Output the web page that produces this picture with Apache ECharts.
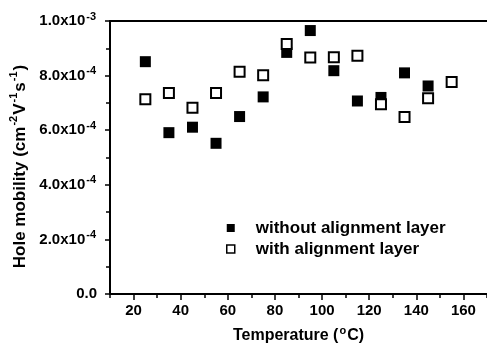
<!DOCTYPE html>
<html>
<head>
<meta charset="utf-8">
<script src="https://cdn.jsdelivr.net/npm/echarts@6/dist/echarts.min.js"></script>
<style>
  html, body { margin: 0; padding: 0; background: #fff; }
  #chart { width: 487px; height: 350px; }
</style>
</head>
<body>
<div id="chart"></div>
<script>
// Annealing temperature (°C)
const temperatures = [25, 35, 45, 55, 65, 75, 85, 95, 105, 115, 125, 135, 145, 155];
// Hole mobility (cm^2 V^-1 s^-1)
const mobilityWithout = [8.51e-4, 5.91e-4, 6.11e-4, 5.52e-4, 6.50e-4, 7.22e-4, 8.85e-4, 9.65e-4, 8.18e-4, 7.07e-4, 7.20e-4, 8.10e-4, 7.62e-4];
const mobilityWith = [7.13e-4, 7.36e-4, 6.82e-4, 7.36e-4, 8.14e-4, 8.01e-4, 9.16e-4, 8.66e-4, 8.67e-4, 8.73e-4, 6.95e-4, 6.48e-4, 7.17e-4, 7.77e-4];
const seriesNames = ['without alignment layer', 'with alignment layer'];
// labelled temperature ticks
const xTickValues = [20, 40, 60, 80, 100, 120, 140, 160];
// y tick labels: mantissa and exponent
const yTickLabels = {
  0: ['0.0', ''],
  2e-4: ['2.0x10', '-4'],
  4e-4: ['4.0x10', '-4'],
  6e-4: ['6.0x10', '-4'],
  8e-4: ['8.0x10', '-4'],
  1e-3: ['1.0x10', '-3']
};

const FONT = '"Liberation Sans", Arial, sans-serif';

function pairs(values) {
  return values.map((v, i) => [temperatures[i], v]);
}

function richText(size, supSize) {
  return {
    m: { fontFamily: FONT, fontWeight: 'bold', fontSize: size, lineHeight: size + 5, color: '#000' },
    s: { fontFamily: FONT, fontWeight: 'bold', fontSize: supSize, lineHeight: supSize + 1, color: '#000', verticalAlign: 'top', padding: [0, 1, 0, 1] }
  };
}

const chart = echarts.init(document.getElementById('chart'), null, { renderer: 'canvas' });

const axisLine = { show: true, lineStyle: { color: '#000', width: 2 } };
const tickLine = { color: '#000', width: 1.5 };

chart.setOption({
  animation: false,
  backgroundColor: '#fff',
  grid: { left: 110, right: -6, top: 21, bottom: 56, show: false },
  legend: {
    orient: 'vertical',
    left: 221,
    top: 214,
    itemWidth: 8,
    itemHeight: 8,
    itemGap: 3,
    data: [
      { name: seriesNames[0], itemStyle: { color: '#000', borderWidth: 0 } },
      { name: seriesNames[1], itemStyle: { color: '#fff', borderColor: '#000', borderWidth: 1.5 } }
    ],
    textStyle: {
      fontFamily: FONT, fontWeight: 'bold', fontSize: 17, color: '#000',
      padding: [0, 0, 0, 16], lineHeight: 18
    }
  },
  xAxis: [{
    // bottom axis: short ticks every 10 °C, labels every 20 °C
    type: 'value',
    min: 10,
    max: 170,
    interval: 10,
    position: 'bottom',
    axisLine: axisLine,
    axisTick: { show: true, inside: false, length: 4, lineStyle: tickLine },
    splitLine: { show: false },
    axisLabel: {
      customValues: xTickValues,
      margin: 9,
      color: '#000', fontFamily: FONT, fontWeight: 'bold', fontSize: 15
    },
    name: '{m|Temperature (}{s|o}{m|C)}',
    nameLocation: 'middle',
    nameGap: 31,
    nameTextStyle: { rich: richText(16, 11) }
  }, {
    // top frame line
    type: 'value',
    min: 10,
    max: 170,
    position: 'top',
    axisLine: axisLine,
    axisTick: { show: false },
    axisLabel: { show: false },
    splitLine: { show: false }
  }, {
    // longer ticks at the labelled temperatures
    type: 'value',
    min: 10,
    max: 170,
    position: 'bottom',
    offset: 0,
    axisLine: { show: false },
    axisTick: { show: true, inside: false, length: 6, customValues: xTickValues, lineStyle: tickLine },
    axisLabel: { show: false },
    splitLine: { show: false }
  }],
  yAxis: {
    type: 'value',
    min: 0,
    max: 1e-3,
    interval: 2e-4,
    axisLine: axisLine,
    axisTick: { show: true, inside: false, length: 5, lineStyle: tickLine },
    minorTick: { show: true, splitNumber: 2, length: 4, lineStyle: tickLine },
    splitLine: { show: false },
    axisLabel: {
      margin: 13,
      formatter: function (v) {
        const key = Object.keys(yTickLabels).find(k => Math.abs(Number(k) - v) < 1e-9);
        const t = yTickLabels[key];
        if (!t) return '';
        return t[1] ? '{m|' + t[0] + '}{s|' + t[1] + '}' : '{m|' + t[0] + '}';
      },
      rich: richText(15, 11)
    },
    name: '{m|Hole mobility (cm}{s|-2}{m|V}{s|-1}{m|s}{s|-1}{m|)}',
    nameLocation: 'middle',
    nameGap: 77,
    nameRotate: 90,
    nameTextStyle: {
      padding: [0, 18, 0, 0],
      rich: richText(17, 11)
    }
  },
  series: [{
    name: seriesNames[0],
    type: 'scatter',
    symbol: 'rect',
    symbolSize: 11,
    itemStyle: { color: '#000', borderColor: '#000', borderWidth: 0, opacity: 1 },
    data: pairs(mobilityWithout),
    z: 2
  }, {
    name: seriesNames[1],
    type: 'scatter',
    symbol: 'rect',
    symbolSize: 10,
    itemStyle: { color: '#fff', borderColor: '#000', borderWidth: 2, opacity: 1 },
    data: pairs(mobilityWith),
    z: 3
  }]
});
</script>
</body>
</html>
